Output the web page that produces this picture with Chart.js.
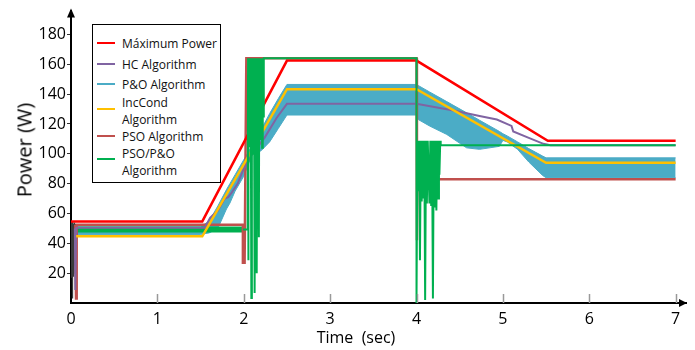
<!DOCTYPE html>
<html>
<head>
<meta charset="utf-8">
<script src="https://cdn.jsdelivr.net/npm/chart.js@4.4.1/dist/chart.umd.min.js"></script>
<style>
  body { margin: 0; background: #fff; }
  #wrap { position: relative; width: 695px; height: 350px; font-family: "Open Sans", sans-serif; }
  #chart { position: absolute; left: 0; top: 0; }
  .title { position: absolute; color: #000; white-space: pre; }
  #ytitle { font-size: 20px; left: 24px; top: 150px; transform: translate(-50%, -50%) rotate(-90deg); }
  #xtitle { font-size: 16px; left: 356px; top: 337px; transform: translate(-50%, -50%); }
  #legend { position: absolute; left: 92px; top: 24px; width: 127px; height: 157px; border: 1.5px solid #000; background: #fff; font-size: 12px; color: #111; }
  #legend .sw { position: absolute; left: 4px; width: 18px; height: 2.5px; }
  #legend .tx { position: absolute; left: 29px; line-height: 17px; white-space: pre; }
</style>
</head>
<body>
<div id="wrap">
  <canvas id="chart" width="695" height="350"></canvas>
  <div class="title" id="ytitle">Power (W)</div>
  <div class="title" id="xtitle">Time  (sec)</div>
  <div id="legend"></div>
</div>
<script>
// Power vs time for six MPPT methods

const xTicks = [0, 1, 2, 3, 4, 5, 6, 7];
const yTicks = [20, 40, 60, 80, 100, 120, 140, 160, 180];

// Máximum Power
const mpT = [0, 1.52, 2.5, 4.0, 5.52, 7.0];
const mpP = [54.7, 54.7, 162.5, 162.5, 108.7, 108.7];

// HC Algorithm
const hcT = [0.045, 0.05, 0.06, 1.55, 1.61, 1.7, 1.78, 1.82, 1.86, 1.93, 1.99, 2.1, 2.24, 2.38, 2.5, 4.0, 4.46, 4.73, 4.93, 5.1, 5.12, 5.3, 5.47, 5.55, 7.0];
const hcP = [50, 8.7, 50.5, 50.5, 57, 62, 70, 71, 74, 80, 88.7, 100, 110.7, 124, 133.5, 133.5, 128.7, 125.3, 123, 118.7, 115, 110.7, 106.7, 105.8, 105.8];

// P&O Algorithm (oscillation band, upper and lower envelope)
const poT = [0.06, 1.5, 1.6, 1.7, 1.8, 1.84, 1.9, 2.0, 2.1, 2.2, 2.3, 2.4, 2.5, 4.0, 4.02, 4.15, 4.35, 4.58, 4.73, 4.96, 5.0, 5.05, 5.17, 5.3, 5.46, 5.5, 7.0];
const poHi = [51, 51, 55, 65, 76, 80, 86, 96, 106, 116, 127, 137, 146.5, 146.5, 145.8, 141.5, 135, 127.5, 122.5, 115, 113.5, 112, 108, 103.5, 98.5, 97.3, 97.3];
const poLo = [46, 46, 47, 50, 63, 67, 75, 85, 100, 102, 108, 117, 126, 126, 123, 118.7, 113, 104, 103, 105, 109, 108, 103, 94.5, 85.5, 84, 84];

// IncCond Algorithm
const icT = [0.06, 1.52, 2.5, 4.0, 5.5, 7.0];
const icP = [44.7, 44.7, 143.3, 143.3, 94, 94];

// PSO Algorithm
const psoT = [0.05, 0.058, 0.066, 1.99, 1.99, 2.01, 2.03, 4.0, 4.005, 4.01, 7.0];
const psoP = [52.4, 3, 52.4, 52.4, 27, 27, 164, 164, 42, 83, 83];

// PSO/P&O Algorithm: thick band before the step, then the main trace
const ppEarlyT = [0.06, 1.99];
const ppEarlyP = [49.3, 49.3];
const ppT = [1.99, 2.045, 2.05, 2.052, 2.056, 2.062, 2.068, 2.074, 2.08, 2.088, 2.094, 2.1, 2.106, 2.112, 2.118, 2.126, 2.132, 2.138, 2.145, 2.15, 2.156, 2.162, 2.168, 2.175, 2.18, 2.187, 2.194, 2.2, 2.206, 2.213, 2.22, 2.226, 2.232,
  4.0, 4.0, 4.01, 4.02, 4.03, 4.04, 4.05, 4.06, 4.07, 4.08, 4.09, 4.10, 4.11, 4.12, 4.13, 4.15, 4.16, 4.17, 4.18, 4.19, 4.20, 4.21, 4.22, 4.23, 4.24, 4.25, 4.26, 4.265, 4.275, 4.28, 7.0];
const ppP = [49.3, 49.3, 164, 28.7, 164, 110, 164, 105, 164, 3.3, 164, 112, 164, 100, 164, 6.7, 164, 108, 164, 20, 164, 115, 164, 44, 164, 118, 164, 110, 164, 104, 164, 125, 164,
  164, 0, 108.7, 75, 108.7, 28.7, 108.7, 68, 108.7, 70, 108.7, 2, 108.7, 66.7, 108.7, 66.7, 108.7, 65, 108.7, 3, 108.7, 64, 108.7, 62, 108.7, 70, 108.7, 86, 108.7, 105.8, 105.8];

// start-up transient (dark cluster at t = 0)
const trT = [0.005, 0.008, 0.012, 0.016, 0.02, 0.024, 0.028, 0.032, 0.036, 0.04, 0.044, 0.048, 0.052, 0.056, 0.06, 0.064];
const trP = [54, 17, 55, 3, 54, 18, 53, 22, 54, 25, 52, 20, 53, 30, 52, 45];

const COLORS = {
  mp: '#ff0000', hc: '#8064a2', po: '#4bacc6', ic: '#ffc000', pso: '#c0504d', pp: '#00b050', tr: '#3a3a3a'
};

const legendItems = [
  { text: 'Máximum Power', color: COLORS.mp, line: 18, lines: [18] },
  { text: 'HC Algorithm', color: COLORS.hc, line: 39, lines: [39] },
  { text: 'P&O Algorithm', color: COLORS.po, line: 59, lines: [59] },
  { text: 'IncCond\nAlgorithm', color: COLORS.ic, line: 84, lines: [77] },
  { text: 'PSO Algorithm', color: COLORS.pso, line: 111, lines: [111] },
  { text: 'PSO/P&O\nAlgorithm', color: COLORS.pp, line: 134, lines: [128] }
];

function pts(t, p) {
  return t.map((x, i) => ({ x, y: p[i] }));
}

function line(data, color, width) {
  return { data, borderColor: color, borderWidth: width, pointRadius: 0, tension: 0, fill: false };
}

// legend box (html)
(function () {
  const box = document.getElementById('legend');
  for (const it of legendItems) {
    const sw = document.createElement('div');
    sw.className = 'sw';
    sw.style.top = (it.line - 1.25) + 'px';
    sw.style.background = it.color;
    box.appendChild(sw);
    const tx = document.createElement('div');
    tx.className = 'tx';
    tx.style.top = (it.lines[0] - 8.5) + 'px';
    tx.textContent = it.text;
    box.appendChild(tx);
  }
})();

// arrows on the axes and inward x tick marks
const axisDecor = {
  id: 'axisDecor',
  afterDraw(chart) {
    const { ctx, chartArea: a, scales } = chart;
    ctx.save();
    ctx.strokeStyle = '#999';
    ctx.lineWidth = 1.5;
    for (const v of xTicks) {
      if (v === 0) continue;
      const x = Math.round(scales.x.getPixelForValue(v)) + 0.5;
      ctx.beginPath();
      ctx.moveTo(x, a.bottom - 9);
      ctx.lineTo(x, a.bottom);
      ctx.stroke();
    }
    ctx.fillStyle = '#000';
    // x arrow
    ctx.beginPath();
    ctx.moveTo(a.right + 1, a.bottom);
    ctx.lineTo(a.right - 7, a.bottom - 4);
    ctx.lineTo(a.right - 7, a.bottom + 4);
    ctx.closePath();
    ctx.fill();
    // y arrow
    ctx.beginPath();
    ctx.moveTo(a.left, a.top - 2);
    ctx.lineTo(a.left - 4, a.top + 7);
    ctx.lineTo(a.left + 4, a.top + 7);
    ctx.closePath();
    ctx.fill();
    ctx.restore();
  }
};

const tickFont = { family: '"Open Sans", sans-serif', size: 16 };

new Chart(document.getElementById('chart'), {
  type: 'line',
  data: {
    datasets: [
      line(pts(ppT, ppP), COLORS.pp, 2),
      line(pts(mpT, mpP), COLORS.mp, 2.5),
      line(pts(icT, icP), COLORS.ic, 2.5),
      line(pts(hcT, hcP), COLORS.hc, 2),
      line(pts(psoT, psoP), COLORS.pso, 2.5),
      line(pts(ppEarlyT, ppEarlyP), COLORS.pp, 6),
      line(pts(trT, trP), COLORS.tr, 1.2),
      line(pts(poT, poHi), COLORS.po, 1),
      Object.assign(line(pts(poT, poLo), COLORS.po, 1), { fill: '-1', backgroundColor: COLORS.po })
    ]
  },
  options: {
    responsive: false,
    animation: false,
    devicePixelRatio: 1,
    layout: { padding: { top: 9, right: 9, left: 0, bottom: 0 } },
    plugins: { legend: { display: false }, tooltip: { enabled: false } },
    scales: {
      x: {
        type: 'linear',
        min: 0,
        max: 7.12,
        afterFit: (s) => { s.height = 47; },
        afterBuildTicks: (s) => { s.ticks = xTicks.map(v => ({ value: v })); },
        grid: { display: false, drawTicks: false },
        border: { display: true, color: '#000', width: 2 },
        ticks: { color: '#000', font: tickFont, padding: 7, maxRotation: 0, autoSkip: false }
      },
      y: {
        type: 'linear',
        min: 0,
        max: 196,
        afterFit: (s) => { s.width = 71; },
        afterBuildTicks: (s) => { s.ticks = yTicks.map(v => ({ value: v })); },
        grid: { drawOnChartArea: false, drawTicks: true, tickLength: 4, color: '#333', lineWidth: 1 },
        border: { display: true, color: '#000', width: 2 },
        ticks: { color: '#000', font: tickFont, padding: 1, autoSkip: false }
      }
    }
  },
  plugins: [axisDecor]
});
</script>
</body>
</html>
